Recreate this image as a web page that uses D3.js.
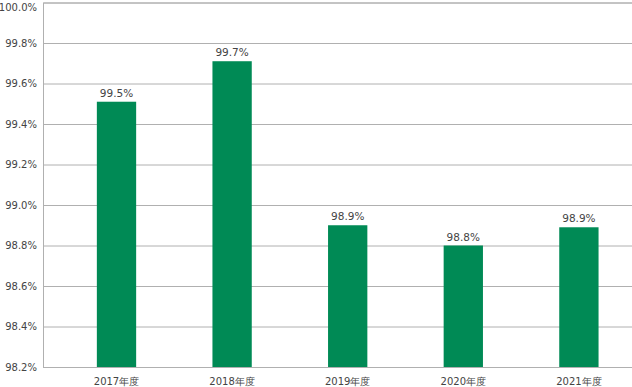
<!DOCTYPE html>
<html>
<head>
<meta charset="utf-8">
<script src="https://cdn.jsdelivr.net/npm/d3@7"></script>
<style>
  body { margin: 0; background: #fff; }
  svg text { font-family: "DejaVu Sans", Verdana, sans-serif; fill: #444; }
</style>
</head>
<body>
<div id="chart"></div>
<script>
// data
var years = ["2017年度", "2018年度", "2019年度", "2020年度", "2021年度"];
var rates = [99.51, 99.71, 98.9, 98.8, 98.89];
var labels = ["99.5%", "99.7%", "98.9%", "98.8%", "98.9%"];
var yTicks = [98.2, 98.4, 98.6, 98.8, 99.0, 99.2, 99.4, 99.6, 99.8, 100.0];

var width = 632, height = 387;
var plotLeft = 43, plotTop = 2.5, plotBottom = 367;

var svg = d3.select("#chart")
    .append("svg")
    .attr("width", width)
    .attr("height", height);

var x = d3.scaleBand()
    .domain(years)
    .range([58.7, 636.7])
    .paddingInner(0.66)
    .paddingOuter(0.33);

var y = d3.scaleLinear()
    .domain([98.2, 100.0])
    .range([plotBottom, plotTop]);

// gridlines + y labels
var yAxis = svg.append("g")
    .attr("transform", "translate(" + plotLeft + ",0)")
    .call(d3.axisLeft(y)
        .tickValues(yTicks)
        .tickSize(-(width - plotLeft))
        .tickPadding(6)
        .tickFormat(function (d) { return d.toFixed(1) + "%"; }));
yAxis.select(".domain").attr("stroke", "#b0b0b0").attr("stroke-width", 1);
yAxis.selectAll(".tick line").attr("stroke", "#b0b0b0");
yAxis.selectAll(".tick text")
    .style("font-size", "10px")
    .attr("fill", "#444");
// top label would be cut off at the edge, nudge it down a bit
yAxis.selectAll(".tick text")
    .filter(function (d) { return d === 100.0; })
    .attr("dy", "0.75em");

// bars
svg.append("g")
    .selectAll("rect")
    .data(rates)
    .enter()
    .append("rect")
    .attr("x", function (d, i) { return x(years[i]); })
    .attr("width", x.bandwidth())
    .attr("y", function (d) { return y(d); })
    .attr("height", function (d) { return y(98.2) - y(d); })
    .attr("fill", "#008a55");

// value labels
svg.append("g")
    .selectAll("text")
    .data(rates)
    .enter()
    .append("text")
    .attr("x", function (d, i) { return x(years[i]) + x.bandwidth() / 2; })
    .attr("y", function (d) { return y(d) - 5; })
    .attr("text-anchor", "middle")
    .style("font-size", "10.5px")
    .text(function (d, i) { return labels[i]; });

// x labels
svg.append("g")
    .selectAll("text")
    .data(years)
    .enter()
    .append("text")
    .attr("x", function (d) { return x(d) + x.bandwidth() / 2; })
    .attr("y", 385)
    .attr("text-anchor", "middle")
    .style("font-size", "10px")
    .text(function (d) { return d; });
</script>
</body>
</html>
